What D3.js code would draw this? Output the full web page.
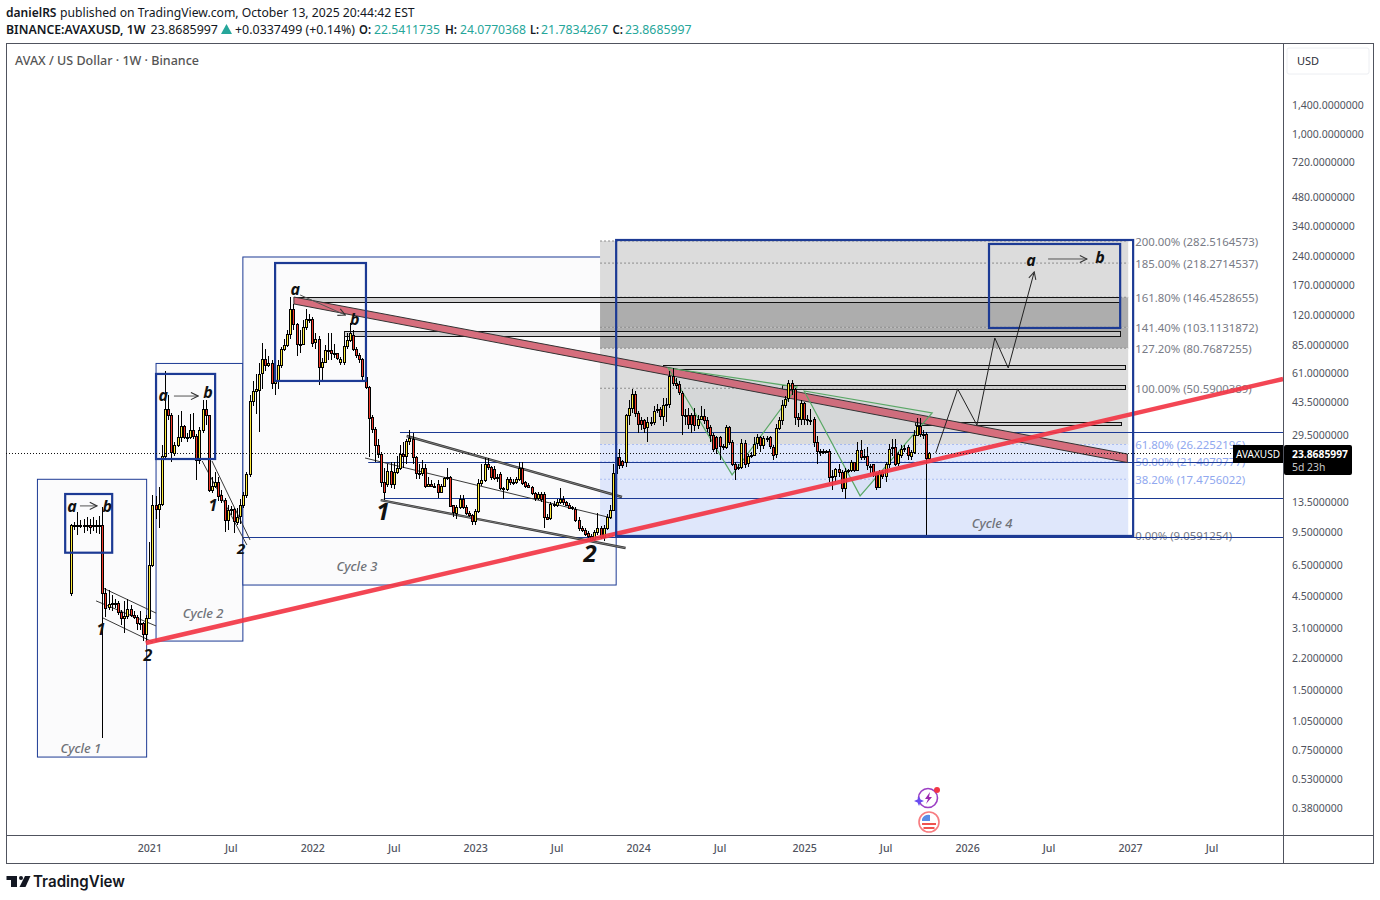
<!DOCTYPE html>
<html>
<head>
<meta charset="utf-8">
<title>AVAX / US Dollar</title>
<script src="https://cdnjs.cloudflare.com/ajax/libs/d3/7.8.5/d3.min.js"></script>
<style>
html, body { margin: 0; background: #fff; }
svg { display: block; font-family: "Noto Sans", sans-serif; }
.axis path { display: none; }
.axis text { fill: #50535e; font-family: "Noto Sans", sans-serif; }
</style>
</head>
<body>
<div id="chart"></div>
<script>
// weekly bars, first one is the week of 2020-07-13
var firstWeek = "2020-07-13";
var opens = [
  4.62,10.2,10.2,10.3,10.2,10.2,10.3,10.1,10.2,10.1,
  10.2,4.62,3.9,4.05,4.1,4.1,3.7,3.45,3.55,3.85,
  3.6,3.5,3.25,3.25,2.85,3.45,6.4,12.9,12.3,13.1,
  22.9,39.5,37,23.9,26.1,28.6,32.5,28.6,28.4,31,
  29,21.9,31,39.5,37,15.4,16.2,17,14.5,13.7,
  10.85,12.2,12.3,10.7,11.3,12.9,14.5,18.6,43.5,49,
  50,60,71,66.5,68,54,55,66,80,84,
  95,127,107,85,85,104,114,114,86.5,90,
  65,69,79,79,76.5,76,69,69,83,88.8,
  94,80,74.6,71,58,51.6,36,31.4,26,23.5,
  16.9,16.5,19.3,16.5,19,20,23.5,23,27.3,28,
  22.6,18.7,18.9,20,16.2,16.6,16.2,16.6,15.1,16.2,
  17.8,18,12.9,11.9,12.7,13.9,12.7,11.8,11.5,10.7,
  12,16.7,17.3,20.9,20.1,19.8,17.8,18.6,15.8,15.6,
  17.5,16.9,16.8,17.5,20,16.9,16.4,16,14.9,14,
  14.7,14.7,11.3,11.1,13.1,13,13.4,13.8,13.4,13,
  12.6,12.4,10.85,9.9,9.7,9.3,9,8.7,9.4,9.9,
  8.9,9.9,11.3,12.2,18.7,22.6,21.6,21.4,37,40.2,
  47.2,37.9,35,35,31.9,34,34.3,39,39.6,36.6,
  41.6,41.9,58.3,54,53,48,37,37,37,37,
  33,35.5,36.7,35,32,29.3,28.5,28.5,25.7,25.4,
  32,27,21,19.9,20.2,26.7,21,22.9,23.3,26.5,
  28.5,26,28.3,28.5,25.6,23.4,31.8,34.8,41.6,44.7,
  53.5,50,36,35,42.4,35.5,35,35.5,27,24.4,
  24.3,24.2,24.4,18,18.2,19.7,19,15.8,19.3,19.4,
  21.3,19.4,24.6,22.6,22.8,20.5,20.8,18.9,16,19,
  18.2,21,25.6,25.6,21,23.4,25,25.4,23,24,
  29.3,32.5,29.6,29.8,22.54
];
var highs = [
  10.4,10.6,11.9,10.8,11,11.2,11,11.3,10.9,11.4,
  12.6,4.9,4.79,4.5,4.3,4.2,3.8,4.2,4.3,4,
  3.75,3.6,3.75,3.3,3.6,8.4,14.5,14.3,16,26,
  62,47,38,27,37,39,33,30,37.5,38,
  29.5,32,44,44,37,18,19,18,15.5,14,
  13,12.8,12.5,12.5,13.8,15,19,47,55,60,
  68,86,80,74,70,62,70,82,90,100,
  147,135,108,100,112,128,120,116,96,93,
  72,84,96,96,85,76,73,92,96,108,
  100,82,76,72,59,52,37,32,28,24,
  20,21,21.5,21.5,23,26,27,28,31,30,
  23,21,22,21,18,17.4,16.8,17.3,16.5,18,
  20,18.2,13,13,14.5,14.6,13,12,11.7,12.3,
  17.5,21,22.5,22.5,20.3,20.3,18.5,19,16,18,
  18,17.5,18,21.5,21.5,17.2,16.7,16.2,15,15,
  15,15,11.6,13.4,13.5,13.9,15.7,14.4,13.6,13.2,
  12.8,12.6,11.2,10.1,9.9,9.5,9.2,9.7,11.8,10.1,
  10.2,11.6,13,21,25,25,22,37.5,44,50,
  49,39,36,35.5,36,36,41,42,40.5,45,
  45,62,64,57,55,49,39.5,40,38,40,
  37,41,39.5,36,33,30,29,29,26.5,33,
  32.5,27.5,21.5,21,28,27.5,23.5,24,28.5,29.5,
  29,29,29,29,26,33.5,36,44,46,56,
  56,51,38,44,43,37,39.5,36,29,25,
  25,24.6,25,19.5,20,21,19.5,20,19.8,22,
  21.5,27,27.5,25,25.5,21,21,19,19.5,19.5,
  21.3,26.5,28,28,24,26,26,26,24.5,31,
  35.7,35.7,31,30.5,24.08
];
var lows = [
  4.45,9.7,9.1,9.9,9.3,9.5,9.2,9.6,9.3,9.2,
  0.85,3.5,3.8,3.75,3.9,3.6,3.2,2.9,3.4,3.5,
  3.4,3,3,2.65,2.6,3.4,6.3,11,9.9,12.8,
  21.9,35,21.5,23,25.5,27,28,27,28,28,
  17.4,21,30,33,15,14.8,15.8,13.5,13.2,9.4,
  9.7,11.5,9.3,10.2,10.4,12.5,14,18,41,37.5,
  30.3,50,62,65,50,47,50,64,78,82,
  90,100,74,76,84,100,109,82,80,52.5,
  56,68,70,70,72,70,66,66,80,87,
  78,72,68,56,50,22.6,30,21.4,22.5,16,
  13.7,15.9,15.7,15.6,18.5,19.5,20,21,26,20.8,
  17.5,17.5,18.2,15.8,15.9,15.9,15.8,14,14.8,15.9,
  17.3,12.6,11.3,11,12.4,12.4,11.5,11.2,10.3,10.2,
  11.8,16.2,17,19.5,17.4,17.3,17,15.4,13.9,15.2,
  16.4,16.3,16.5,17.2,16.3,15.8,15.7,14.6,13.6,13.7,
  13.4,9.9,10.9,10.9,12.6,12.7,13.1,13,12.8,12.3,
  12.2,10.6,9.6,9.4,9,8.8,8.5,8.5,9.1,8.7,
  8.5,9.7,11,12,18.3,19.7,20,20.2,33,38,
  36,30,31,30,26.9,32.5,33,38,35,32.5,
  34,40,52,50,46.5,29.3,33,31.5,30,30.6,
  31.5,35,33.5,30.5,27,24,23.5,21.8,24.5,25,
  26,20.5,17.3,19.5,19.7,20,20.2,22.3,22.8,25,
  24,25,27,25,21.8,22.5,31,33,40,43,
  47,33,32,33,33,33,33,25.5,20.9,23,
  23.5,23.8,17,15.4,17,18,15,13.9,18.8,19,
  19,19.2,22,22,19.5,18.7,18,15.5,15.8,17.5,
  17,20,23,20.3,20.5,22.5,24,22,22,23.5,
  29,28.5,28,8.9,21.78
];
var closes = [
  10.2,10.2,10.3,10.2,10.2,10.3,10.1,10.2,10.1,10.2,
  4.62,3.9,4.05,4.1,4.1,3.7,3.45,3.55,3.85,3.6,
  3.5,3.25,3.25,2.85,3.45,6.4,12.9,12.3,13.1,22.9,
  39.5,37,23.9,26.1,28.6,32.5,28.6,28.4,31,29,
  21.9,31,39.5,37,15.4,16.2,17,14.5,13.7,10.85,
  12.2,12.3,10.7,11.3,12.9,14.5,18.6,43.5,49,50,
  60,71,66.5,68,54,55,66,80,84,95,
  127,107,85,85,104,114,114,86.5,90,65,
  69,79,79,76.5,76,71.5,71.5,83,88.8,96,
  80,74.6,71.6,58,51.6,36,31.4,26,23.5,16.9,
  15,19.3,16.5,19,20,23.5,23,27.3,28.3,22.6,
  18.7,18.9,20,16.2,16.6,16.2,16.2,15.1,16.2,17.8,
  18,12.9,11.9,12.7,13.9,12.7,11.8,11.5,10.7,12,
  16.7,17.3,20.9,20.1,17.8,17.8,17.9,15.8,15.6,17.5,
  16.9,16.8,17.5,20,16.7,16.1,16,14.9,14,14.7,
  13.9,11.3,11.1,13.1,13,13.4,13.8,13.4,13,12.6,
  12.4,10.85,9.9,9.7,9.3,9,8.6,9.4,9.9,8.9,
  9.9,11.3,12.2,18.7,22.6,20.6,20.6,37,40.2,47.2,
  37.9,33.3,33.3,31.9,34,34.3,39,39.6,36.6,41.6,
  41.9,58.3,54,53,48,37,36.7,33.3,33.3,33,
  35.5,36.7,35,32,29.3,25,25,25.7,25.4,32,
  27,21,19.9,20.2,26.7,21,22.9,23.3,26.5,28.5,
  26,28.3,28,25.6,23.4,31.8,34.8,41.6,44.7,53.5,
  50,36,35,42.4,35,35,35,27,24.4,24.3,
  24.2,24.4,18,18.2,19.7,19,15.8,19.3,19.4,21.3,
  19.4,24.6,22.6,22.8,20.5,20.3,18.9,16,19,18.2,
  21,25,25.4,21,23.4,25,25.2,23,24,29.3,
  32.5,29.6,29.8,22.5,23.87
];

var priceTicks = [1400,1000,720,480,340,240,170,120,85,61,43.5,29.5,13.5,9.5,6.5,4.5,3.1,2.2,1.5,1.05,0.75,0.53,0.38];
var timeTicks = ["2021-01-04","2021-07-05","2022-01-03","2022-07-04","2023-01-02","2023-07-03","2024-01-01","2024-07-01","2025-01-06","2025-07-07","2026-01-05","2026-07-06","2027-01-04","2027-07-05"];
var lastPrice = 23.8685997;

var fibLevels = [282.5164573,218.2714537,146.4528655,103.1131872,80.7687255,50.5900389,26.2252196,21.4079777,17.4756022,9.0591254];
var fibLabels = ["200.00%","185.00%","161.80%","141.40%","127.20%","100.00%","61.80%","50.00%","38.20%","0.00%"];

// drawings: [week from, week to, price top, price bottom]
var cycleBoxes = [[-10.7,24.1,17.47,0.681],[27.2,54.9,67.6,2.64],[54.9,174,234.4,5.08]];
var abBoxes = [[-1.9,13.1,14.71,7.41],[27.1,46,59.8,22.14],[65.1,94.2,218.5,55.1],[293,334.8,272.9,102.3],[174,339,285.9,9.01]];
var barBoxes = [[71.2,334.8,146.9,137.8],[87.1,334.8,98.7,93.2],[189,336.4,66.4,63],[227,336.4,52.6,50.2],[269.4,335.1,34.1,32.9]];
// horizontal levels: [week from, price]
var hLevels = [[105,30.5],[94.8,21.5],[99.9,14.04],[54.9,8.9]];
// sloped lines: [week a, price a, week b, price b]
var thinLines = [[10.2,4.91,27.1,3.66],[8,4.22,27.1,3.15],[10.2,3.46,26.2,2.61],[41.8,21.63,56.2,8.11],[45,21.63,57.1,8.6],[93.8,22.4,172.7,11.1]];
var heavyLines = [[107.1,28.97,175.9,14.2],[98.9,13.7,177,7.83]];
var downBand = [[71.2,146.9],[337.1,23.47],[337.1,21.25],[71.2,135.4]];
var upTrend = [23.9,2.58,386.9,56.4];
var greenShapes = [
  [[190.6,64.1],[211,18.4],[231.7,51.3]],
  [[234,49],[251.8,14.4],[274.8,37.9]]
];
var forecast = [[276,23.8],[283,50.2],[289.2,32.9],[294.9,91],[299.1,64.1],[307.4,196.8]];
var abArrows = [[2.9,12.8,8.3,12.8],[32.9,46.2,40.5,46.2],[73.1,150.4,87.5,119],[311.8,229,324.3,229]];
var waveLabels = [["a",0.3,12.8],["b",11.5,12.8],["a",29.4,47],["b",43.7,48.7],["a",71.5,161],["b",90.6,113.6],["a",306.4,226],["b",328.4,234.4],["1",9.6,3.04],["2",24.6,2.24],["1",45.3,12.9]];
var bigLabels = [["2",54.3,7.83]];
var hugeLabels = [["1",99.6,12.2],["2",165.7,7.47]];
var cycleLabels = [["Cycle 1",3.2,0.76],["Cycle 2",42.1,3.68],["Cycle 3",91.3,6.35],["Cycle 4",294,10.5]];

var width = 1380, height = 900;
var paneLeft = 6, paneRight = 1283, paneTop = 43, paneBottom = 835, frameRight = 1373, frameBottom = 863;
var blue = "#1c3a94", upCol = "#ffeb3b", downCol = "#f23a2a", gridText = "#50535e";

var parseDay = d3.utcParse("%Y-%m-%d");
var x = d3.scaleUtc().domain([parseDay(firstWeek), parseDay("2027-01-04")]).range([71, 1130]);
var y = d3.scaleLog().domain([1400, 0.38]).range([104, 807]);
function weekDate(i) { return d3.utcDay.offset(parseDay(firstWeek), Math.round(i * 7)); }
function bx(i) { return x(weekDate(i)); }

var svg = d3.select("#chart").append("svg").attr("width", width).attr("height", height);
svg.append("rect").attr("width", width).attr("height", height).attr("fill", "#fff");

// cycle boxes
svg.selectAll(".cycle").data(cycleBoxes).enter().append("rect").attr("class", "cycle")
  .attr("x", function (d) { return bx(d[0]); }).attr("y", function (d) { return y(d[2]); })
  .attr("width", function (d) { return bx(d[1]) - bx(d[0]); }).attr("height", function (d) { return y(d[3]) - y(d[2]); })
  .attr("fill", "#fbfbfc").attr("stroke", blue).attr("stroke-width", 1);

// fib zones
var fibFrom = bx(168.8), fibTo = bx(337.4);
var zoneFill = ["#dcdcdc", "#dcdcdc", "#adadad", "#adadad", "#dcdcdc", "#dcdcdc", "#dfe7fb", "#dfe7fb", "#dfe7fb"];
svg.selectAll(".zone").data(d3.pairs(fibLevels)).enter().append("rect").attr("class", "zone")
  .attr("x", fibFrom).attr("width", fibTo - fibFrom)
  .attr("y", function (d) { return y(d[0]); })
  .attr("height", function (d) { return y(d[1]) - y(d[0]); })
  .attr("fill", function (d, i) { return zoneFill[i]; });
svg.selectAll(".fibline").data(fibLevels).enter().append("line").attr("class", "fibline")
  .attr("x1", fibFrom).attr("x2", fibTo)
  .attr("y1", function (d) { return y(d); }).attr("y2", function (d) { return y(d); })
  .attr("stroke", function (d, i) { return i >= 6 && i <= 8 ? "#a9bcf2" : "#8a8a8a"; })
  .attr("stroke-dasharray", "2 2").attr("stroke-width", 1);
svg.selectAll(".fibtext").data(fibLevels).enter().append("text").attr("class", "fibtext")
  .attr("x", bx(339) + 2).attr("y", function (d) { return y(d) + 4.5; })
  .attr("font-size", 11.4)
  .attr("fill", function (d, i) { return i >= 6 && i <= 8 ? "#90a8ef" : "#787b86"; })
  .text(function (d, i) { return fibLabels[i] + " (" + d.toFixed(7) + ")"; });

// levels out to the price axis
svg.selectAll(".hlevel").data(hLevels).enter().append("line").attr("class", "hlevel")
  .attr("x1", function (d) { return bx(d[0]); }).attr("x2", paneRight)
  .attr("y1", function (d) { return Math.round(y(d[1])) + 0.5; }).attr("y2", function (d) { return Math.round(y(d[1])) + 0.5; })
  .attr("stroke", blue).attr("stroke-width", 1);

// grey resistance bars
svg.selectAll(".bar").data(barBoxes).enter().append("rect").attr("class", "bar")
  .attr("x", function (d) { return Math.round(bx(d[0])) + 0.5; }).attr("y", function (d) { return Math.round(y(d[2])) + 0.5; })
  .attr("width", function (d) { return Math.round(bx(d[1]) - bx(d[0])); }).attr("height", function (d) { return Math.round(y(d[3]) - y(d[2])); })
  .attr("fill", "#c8c8c8").attr("fill-opacity", 0.8).attr("stroke", "#111").attr("stroke-width", 1);

// channels
var lineGen = d3.line().x(function (d) { return bx(d[0]); }).y(function (d) { return y(d[1]); });
function seg(sel, cls, data, col, w) {
  sel.selectAll("." + cls).data(data).enter().append("line").attr("class", cls)
    .attr("x1", function (d) { return bx(d[0]); }).attr("y1", function (d) { return y(d[1]); })
    .attr("x2", function (d) { return bx(d[2]); }).attr("y2", function (d) { return y(d[3]); })
    .attr("stroke", col).attr("stroke-width", w);
}
seg(svg, "thin", thinLines, "#3a3a3a", 1);
seg(svg, "heavy", heavyLines, "#333", 2.4);
seg(svg, "heavyInner", heavyLines, "#999", 0.7);

// pink band
svg.append("path").attr("d", lineGen(downBand) + "Z")
  .attr("fill", "#d66e7d").attr("stroke", "#333").attr("stroke-width", 1);

// harmonic triangles
svg.selectAll(".tri").data(greenShapes).enter().append("path").attr("class", "tri")
  .attr("d", function (d) { return lineGen(d) + "Z"; })
  .attr("fill", "#3d5a80").attr("fill-opacity", 0.04)
  .attr("stroke", "#5aa866").attr("stroke-width", 1.2);

// candles
var candles = opens.map(function (o, i) {
  return { i: i, open: o, high: highs[i], low: lows[i], close: closes[i] };
});
var bars = svg.append("g").attr("shape-rendering", "crispEdges");
bars.selectAll(".wick").data(candles).enter().append("line").attr("class", "wick")
  .attr("x1", function (d) { return Math.round(bx(d.i)) + 0.5; }).attr("x2", function (d) { return Math.round(bx(d.i)) + 0.5; })
  .attr("y1", function (d) { return y(d.high); }).attr("y2", function (d) { return y(d.low); })
  .attr("stroke", "#000").attr("stroke-width", 1);
bars.selectAll(".body").data(candles).enter().append("rect").attr("class", "body")
  .attr("x", function (d) { return Math.round(bx(d.i)) - 0.5; }).attr("width", 2)
  .attr("y", function (d) { return Math.round(y(Math.max(d.open, d.close))) + 0.5; })
  .attr("height", function (d) { return Math.max(1, Math.round(Math.abs(y(d.open) - y(d.close)))); })
  .attr("fill", function (d) { return d.close >= d.open ? upCol : downCol; })
  .attr("stroke", "#000").attr("stroke-width", 1);

// up trend
svg.append("line")
  .attr("x1", bx(upTrend[0])).attr("y1", y(upTrend[1]))
  .attr("x2", bx(upTrend[2])).attr("y2", y(upTrend[3]))
  .attr("stroke", "#f23645").attr("stroke-opacity", 0.92).attr("stroke-width", 4.5);

// blue a-b boxes
svg.selectAll(".ab").data(abBoxes).enter().append("rect").attr("class", "ab")
  .attr("x", function (d) { return bx(d[0]); }).attr("y", function (d) { return y(d[2]); })
  .attr("width", function (d) { return bx(d[1]) - bx(d[0]); }).attr("height", function (d) { return y(d[3]) - y(d[2]); })
  .attr("fill", "none").attr("stroke", blue).attr("stroke-width", 2.2);

// arrows
svg.append("defs").append("marker").attr("id", "head")
  .attr("viewBox", "0 0 10 10").attr("refX", 9).attr("refY", 5)
  .attr("markerWidth", 9).attr("markerHeight", 9).attr("markerUnits", "userSpaceOnUse").attr("orient", "auto")
  .append("path").attr("d", "M1 1L9 5L1 9").attr("fill", "none").attr("stroke", "#333").attr("stroke-width", 1.2);
seg(svg, "abarrow", abArrows, "#555", 1);
svg.selectAll(".abarrow").attr("marker-end", "url(#head)");
svg.append("path").attr("d", lineGen(forecast)).attr("fill", "none")
  .attr("stroke", "#222").attr("stroke-width", 1).attr("marker-end", "url(#head)");

// wave labels
function labels(cls, data, size, col, weight) {
  svg.selectAll("." + cls).data(data).enter().append("text").attr("class", cls)
    .attr("x", function (d) { return bx(d[1]); }).attr("y", function (d) { return y(d[2]); })
    .attr("text-anchor", "middle").attr("dominant-baseline", "central")
    .attr("font-size", size).attr("font-style", "italic").attr("font-weight", weight)
    .attr("fill", col).text(function (d) { return d[0]; });
}
labels("wave", waveLabels, 16, "#111", 700);
labels("big", bigLabels, 15, "#111", 700);
labels("huge", hugeLabels, 24, "#111", 700);
labels("cyc", cycleLabels, 13, "#6f7278", 500);

// pane frame
svg.append("rect").attr("x", paneLeft + 0.5).attr("y", paneTop + 0.5)
  .attr("width", frameRight - paneLeft).attr("height", frameBottom - paneTop)
  .attr("fill", "none").attr("stroke", "#50535e");
svg.append("line").attr("x1", paneRight + 0.5).attr("x2", paneRight + 0.5).attr("y1", paneTop).attr("y2", frameBottom).attr("stroke", "#50535e");
svg.append("line").attr("x1", paneLeft).attr("x2", frameRight).attr("y1", paneBottom + 0.5).attr("y2", paneBottom + 0.5).attr("stroke", "#50535e");

// last price line
svg.append("line").attr("x1", paneLeft).attr("x2", 1233)
  .attr("y1", Math.round(y(lastPrice)) + 0.5).attr("y2", Math.round(y(lastPrice)) + 0.5)
  .attr("stroke", "#111").attr("stroke-dasharray", "1 2");

// axes
var yAxis = d3.axisRight(y).tickValues(priceTicks).tickSize(0).tickPadding(9).tickFormat(d3.format(",.7f"));
svg.append("g").attr("class", "axis").attr("transform", "translate(" + paneRight + ",0)").call(yAxis)
  .selectAll("text").attr("font-size", 10.5).attr("dy", "0.42em");
var xAxis = d3.axisBottom(x).tickValues(timeTicks.map(parseDay)).tickSize(0).tickPadding(9)
  .tickFormat(function (d) { return d.getUTCMonth() === 0 ? d3.utcFormat("%Y")(d) : "Jul"; });
svg.append("g").attr("class", "axis").attr("transform", "translate(0," + paneBottom + ")").call(xAxis)
  .selectAll("text").attr("font-size", 10.6).attr("font-weight", 500);

// price tags
svg.append("rect").attr("x", 1287).attr("y", 48).attr("width", 82).attr("height", 26).attr("rx", 2)
  .attr("fill", "#fff").attr("stroke", "#eceef2");
svg.append("text").attr("x", 1297).attr("y", 65).attr("font-size", 11).attr("fill", "#2a2e39").text("USD");
svg.append("rect").attr("x", 1233).attr("y", 445).attr("width", 50).attr("height", 18).attr("fill", "#000");
svg.append("text").attr("x", 1236).attr("y", 458).attr("font-size", 10.4).attr("fill", "#fff")
  .attr("textLength", 44).attr("lengthAdjust", "spacingAndGlyphs").text("AVAXUSD");
svg.append("rect").attr("x", 1284).attr("y", 445).attr("width", 68).attr("height", 30).attr("rx", 2).attr("fill", "#000");
svg.append("text").attr("x", 1292).attr("y", 458).attr("font-size", 10.4).attr("font-weight", 700).attr("fill", "#fff")
  .attr("textLength", 56).attr("lengthAdjust", "spacingAndGlyphs").text("23.8685997");
svg.append("text").attr("x", 1292).attr("y", 471).attr("font-size", 10.4).attr("fill", "#c9c9c9").text("5d 23h");

// header lines, fitted to the published widths
function head(txt, x0, x1, base, col, weight, size) {
  svg.append("text").attr("x", x0).attr("y", base).attr("font-size", size || 12.5)
    .attr("font-weight", weight || 400).attr("fill", col)
    .attr("textLength", x1 - x0).attr("lengthAdjust", "spacingAndGlyphs").text(txt);
}
var teal = "#26a69a", ink = "#131722";
head("danielRS", 6, 56.5, 17, ink, 600);
head("published on TradingView.com, October 13, 2025 20:44:42 EST", 60, 414.6, 17, ink);
head("BINANCE:AVAXUSD, 1W", 6, 145.5, 34, ink, 600);
head("23.8685997", 150.6, 218, 34, ink);
svg.append("path").attr("d", "M221 34L226.5 24L232 34Z").attr("fill", teal);
head("+0.0337499 (+0.14%)", 235, 355, 34, ink);
head("O:", 359, 371, 34, ink, 600);
head("22.5411735", 374, 440, 34, teal);
head("H:", 445, 457, 34, ink, 600);
head("24.0770368", 460, 526, 34, teal);
head("L:", 530, 539, 34, ink, 600);
head("21.7834267", 541, 608, 34, teal);
head("C:", 612.5, 623, 34, ink, 600);
head("23.8685997", 625, 691.5, 34, teal);
head("AVAX / US Dollar · 1W · Binance", 15, 199, 65, "#555", 500);

// event icons
var ic = svg.append("g").attr("transform", "translate(928,798)");
ic.append("circle").attr("r", 9.5).attr("fill", "#fff").attr("stroke", "#9c3fc4").attr("stroke-width", 1.6);
ic.append("path").attr("d", "M2 -6L-3 1H0L-2 6L4 -1H1Z").attr("fill", "#9c27b0");
ic.append("path").attr("d", "M-9 -2L-7.5 1.5L-4 3L-7.5 4.5L-9 8L-10.5 4.5L-14 3L-10.5 1.5Z").attr("fill", "#6a4cf0");
ic.append("circle").attr("cx", 9).attr("cy", -8).attr("r", 3).attr("fill", "#f23645");
var flag = svg.append("g").attr("transform", "translate(929,822)");
flag.append("circle").attr("r", 10).attr("fill", "#fff").attr("stroke", "#f77c80").attr("stroke-width", 1.6);
flag.append("path").attr("d", "M-7 1H7V3H-7ZM-5.5 5H5.5V7H-5.5Z").attr("fill", "#ef5350");
flag.append("path").attr("d", "M-7 -1V-3A7.5 7.5 0 0 1 1 -7V-1Z").attr("fill", "#5b8ce6");

// brand
var logo = svg.append("g").attr("fill", "#131722");
logo.append("path").attr("d", "M6.5 876H17V887H11V880H6.5Z");
logo.append("circle").attr("cx", 21).attr("cy", 878).attr("r", 2);
logo.append("path").attr("d", "M25 876H30.5L25.5 887H19.5Z");
svg.append("text").attr("x", 33).attr("y", 887).attr("font-family", "Inter, sans-serif")
  .attr("font-size", 16).attr("font-weight", 600).attr("fill", "#131722")
  .attr("textLength", 92).attr("lengthAdjust", "spacingAndGlyphs").text("TradingView");
</script>
</body>
</html>
